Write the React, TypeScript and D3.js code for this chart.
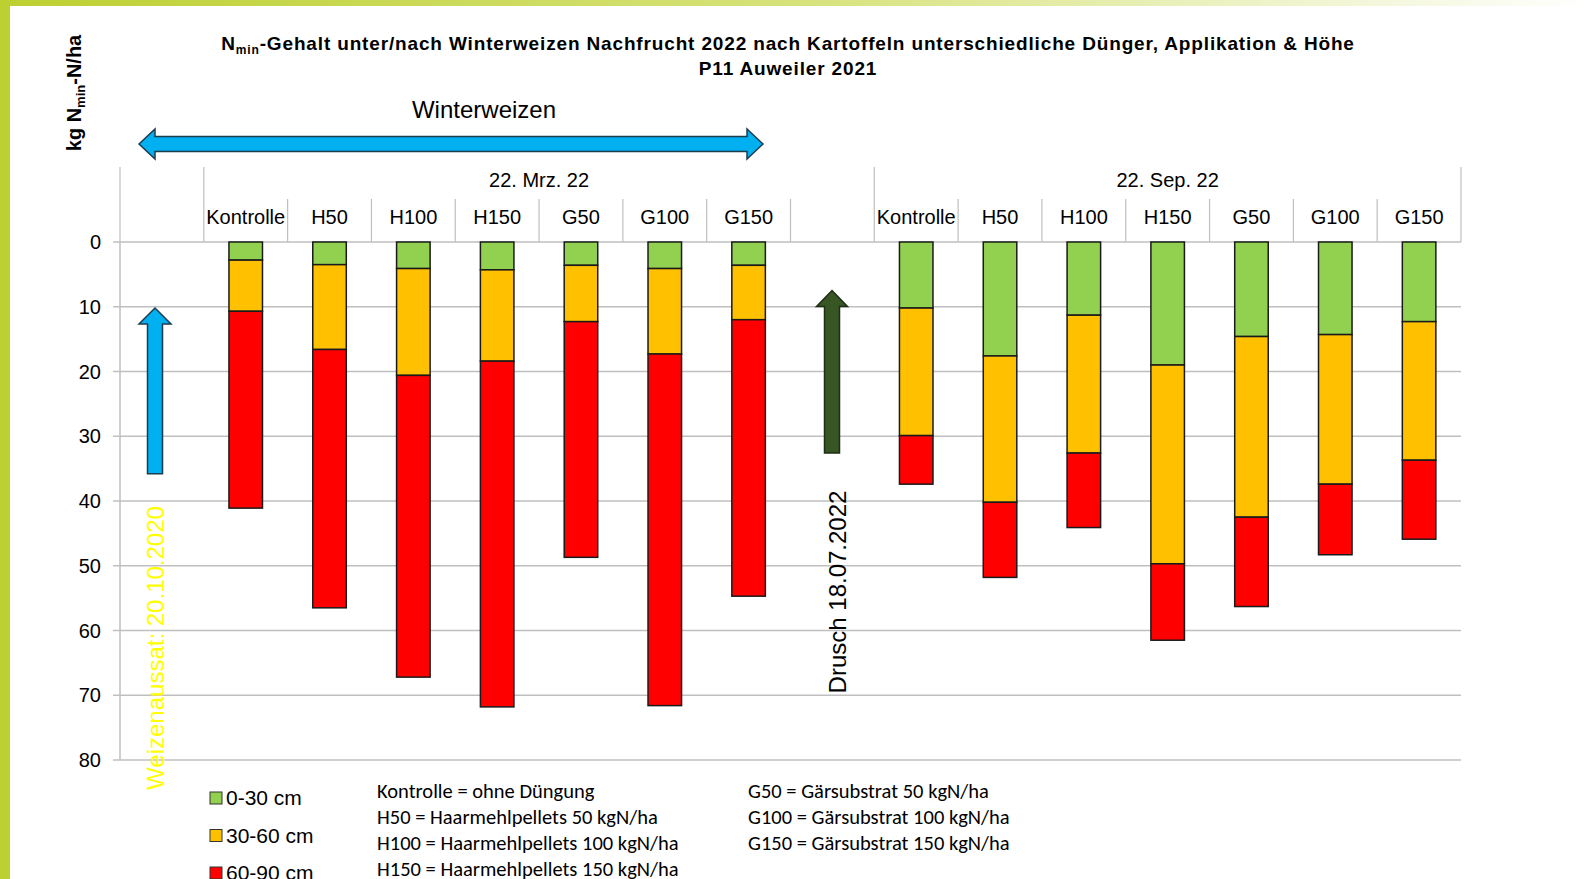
import React from "react";
import * as d3 from "d3";

const categories = ["Kontrolle", "H50", "H100", "H150", "G50", "G100", "G150"];
const dates = ["22. Mrz. 22", "22. Sep. 22"];
const layers = ["0-30 cm", "30-60 cm", "60-90 cm"];
const layerColors = ["#92D050", "#FFC000", "#FF0000"];
const yTicks = [0, 10, 20, 30, 40, 50, 60, 70, 80];

// layer values, kg Nmin-N/ha
const mrz0_30 = [2.8, 3.5, 4.1, 4.3, 3.6, 4.1, 3.6];
const mrz30_60 = [7.9, 13.1, 16.5, 14.1, 8.7, 13.2, 8.4];
const mrz60_90 = [30.4, 39.9, 46.6, 53.4, 36.4, 54.3, 42.7];
const sep0_30 = [10.2, 17.6, 11.3, 19.0, 14.6, 14.3, 12.3];
const sep30_60 = [19.7, 22.6, 21.3, 30.7, 27.9, 23.1, 21.4];
const sep60_90 = [7.5, 11.6, 11.5, 11.8, 13.8, 10.9, 12.2];

const legendNotesLeft = [
  "Kontrolle = ohne Düngung",
  "H50 = Haarmehlpellets 50 kgN/ha",
  "H100 = Haarmehlpellets 100 kgN/ha",
  "H150 = Haarmehlpellets 150 kgN/ha",
];
const legendNotesRight = [
  "G50 = Gärsubstrat 50 kgN/ha",
  "G100 = Gärsubstrat 100 kgN/ha",
  "G150 = Gärsubstrat 150 kgN/ha",
];

const W = 1593;
const H = 879;
const FONT = "'Liberation Sans', Arial, sans-serif";
const NOTE_FONT = "Carlito, Calibri, Lato, 'Open Sans', sans-serif";
const GRID = "#BFBFBF";

export default function App() {
  const slotKeys = [
    "lead",
    ...categories.map((c) => "0|" + c),
    "gap",
    ...categories.map((c) => "1|" + c),
  ];
  const x = d3.scaleBand<string>().domain(slotKeys).range([120, 1461]).padding(0);
  const y = d3.scaleLinear().domain([0, 80]).range([242, 760]);
  const bw = x.bandwidth();
  const barW = bw * 0.4;

  const rows = [
    ...categories.map((c, i) => ({ key: "0|" + c, a: mrz0_30[i], b: mrz30_60[i], c: mrz60_90[i] })),
    ...categories.map((c, i) => ({ key: "1|" + c, a: sep0_30[i], b: sep30_60[i], c: sep60_90[i] })),
  ];
  const stack = d3.stack<any>().keys(["a", "b", "c"]);
  const series = stack(rows);

  const headerTop = 167;
  const catTop = 199;
  const y0 = y(0);
  const tallIdx = [0, 1, 9, 16];
  const groupSpans = [
    { label: dates[0], from: 1, to: 9 },
    { label: dates[1], from: 9, to: 16 },
  ];
  const bx = (i: number) => 120 + i * bw;

  const upArrow = (cx: number, tip: number, bottom: number, headW: number, shaftW: number, headL: number) =>
    `M${cx},${tip} L${cx + headW / 2},${tip + headL} L${cx + shaftW / 2},${tip + headL} L${cx + shaftW / 2},${bottom} L${cx - shaftW / 2},${bottom} L${cx - shaftW / 2},${tip + headL} L${cx - headW / 2},${tip + headL} Z`;

  const dblArrow = (x1: number, x2: number, cy: number, headH: number, shaftH: number, headL: number) =>
    `M${x1},${cy} L${x1 + headL},${cy - headH / 2} L${x1 + headL},${cy - shaftH / 2} L${x2 - headL},${cy - shaftH / 2} L${x2 - headL},${cy - headH / 2} L${x2},${cy} L${x2 - headL},${cy + headH / 2} L${x2 - headL},${cy + shaftH / 2} L${x1 + headL},${cy + shaftH / 2} L${x1 + headL},${cy + headH / 2} Z`;

  return (
    <div style={{ position: "absolute", left: 0, top: 0, width: W, height: H, background: "#fff" }}>
      <svg width={W} height={H} style={{ display: "block" }}>
        <defs>
          <linearGradient id="topbar" x1="0" x2="1" y1="0" y2="0">
            <stop offset="0" stopColor="#BCD031" />
            <stop offset="0.5" stopColor="#D6E27A" />
            <stop offset="1" stopColor="#FFFFFF" />
          </linearGradient>
        </defs>
        <rect x={0} y={0} width={W} height={H} fill="#fff" />
        <rect x={0} y={0} width={W} height={6} fill="url(#topbar)" />
        <rect x={0} y={0} width={10} height={H} fill="#BCD031" />

        {/* title */}
        <text x={788} y={50} textAnchor="middle" fontFamily={FONT} fontWeight="bold" fontSize={19} letterSpacing={0.85} fill="#000">
          N<tspan fontSize={12} dy={4}>min</tspan>
          <tspan dy={-4}>-Gehalt unter/nach Winterweizen Nachfrucht 2022 nach Kartoffeln unterschiedliche Dünger, Applikation &amp; Höhe</tspan>
        </text>
        <text x={788} y={75} textAnchor="middle" fontFamily={FONT} fontWeight="bold" fontSize={19} letterSpacing={0.85} fill="#000">
          P11 Auweiler 2021
        </text>

        {/* y axis title */}
        <text
          transform="translate(81,93) rotate(-90)"
          textAnchor="middle"
          fontFamily={FONT}
          fontWeight="bold"
          fontSize={20}
          fill="#000"
        >
          kg N<tspan fontSize={13} dy={4}>min</tspan>
          <tspan dy={-4}>-N/ha</tspan>
        </text>

        {/* gridlines */}
        {yTicks.map((t) => (
          <g key={t}>
            <line x1={113} x2={1461} y1={y(t)} y2={y(t)} stroke={GRID} strokeWidth={1.5} />
            <text x={101} y={y(t) + 7} textAnchor="end" fontFamily={FONT} fontSize={20} fill="#000">
              {t}
            </text>
          </g>
        ))}
        <line x1={120} x2={120} y1={y0} y2={y(80)} stroke={GRID} strokeWidth={1.5} />

        {/* header lines */}
        {d3.range(17).map((i) => (
          <line
            key={i}
            x1={bx(i)}
            x2={bx(i)}
            y1={tallIdx.includes(i) ? headerTop : catTop}
            y2={y0}
            stroke={GRID}
            strokeWidth={1.2}
          />
        ))}
        {groupSpans.map((g) => (
          <text
            key={g.label}
            x={(bx(g.from) + bx(g.to)) / 2}
            y={187}
            textAnchor="middle"
            fontFamily={FONT}
            fontSize={20}
            fill="#000"
          >
            {g.label}
          </text>
        ))}
        {slotKeys
          .filter((k) => k.includes("|"))
          .map((k) => (
            <text
              key={k}
              x={(x(k) as number) + bw / 2}
              y={224}
              textAnchor="middle"
              fontFamily={FONT}
              fontSize={20}
              fill="#000"
            >
              {k.split("|")[1]}
            </text>
          ))}

        {/* bars */}
        {series.map((s, si) => (
          <g key={si} fill={layerColors[si]}>
            {s.map((d: any) => (
              <rect
                key={d.data.key}
                x={(x(d.data.key) as number) + (bw - barW) / 2}
                y={y(d[0])}
                width={barW}
                height={y(d[1]) - y(d[0])}
                stroke="#1a1a1a"
                strokeWidth={1.5}
              />
            ))}
          </g>
        ))}

        {/* annotations */}
        <path d={dblArrow(139, 763, 144, 30, 15, 16)} fill="#00B0F0" stroke="#1F3B4D" strokeWidth={1.5} />
        <text x={484} y={118} textAnchor="middle" fontFamily={FONT} fontSize={24} fill="#000">
          Winterweizen
        </text>
        <path d={upArrow(155, y(10.2), y(35.8), 32, 15, 16)} fill="#00B0F0" stroke="#1F3B4D" strokeWidth={1.5} />
        <path d={upArrow(832, y(7.5), y(32.6), 31, 15, 16)} fill="#375623" stroke="#1E2E14" strokeWidth={1.5} />
        <text
          transform="translate(846,592) rotate(-90)"
          textAnchor="middle"
          fontFamily={FONT}
          fontSize={24}
          fill="#000"
        >
          Drusch 18.07.2022
        </text>
        <text
          transform="translate(164,648) rotate(-90)"
          textAnchor="middle"
          fontFamily={FONT}
          fontSize={24}
          fill="#FFFF00"
        >
          Weizenaussat: 20.10.2020
        </text>

        {/* legend */}
        {layers.map((l, i) => (
          <g key={l}>
            <rect x={210} y={792 + i * 37.5} width={12} height={12} fill={layerColors[i]} stroke="#333" strokeWidth={1} />
            <text x={226} y={805 + i * 37.5} fontFamily={FONT} fontSize={21} fill="#000">
              {l}
            </text>
          </g>
        ))}
        {legendNotesLeft.map((t, i) => (
          <text key={t} x={377} y={798 + i * 26} fontFamily={NOTE_FONT} fontSize={20.5} fill="#000">
            {t}
          </text>
        ))}
        {legendNotesRight.map((t, i) => (
          <text key={t} x={748} y={798 + i * 26} fontFamily={NOTE_FONT} fontSize={20.5} fill="#000">
            {t}
          </text>
        ))}
      </svg>
    </div>
  );
}
